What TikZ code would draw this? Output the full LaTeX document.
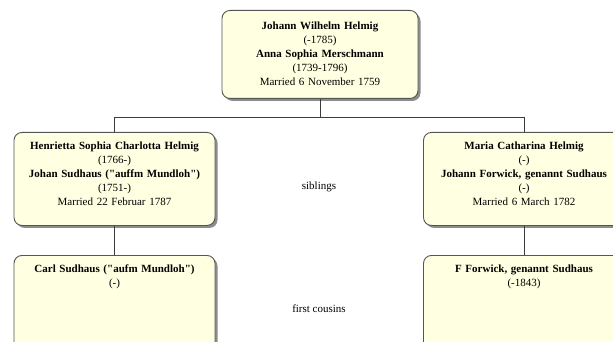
\documentclass[tikz,border=0pt]{standalone}
\usepackage{fontspec}
\setmainfont{Liberation Serif}
\usepackage{tikz}
\usetikzlibrary{shadows}
\definecolor{boxfill}{RGB}{255,255,225}
\definecolor{boxline}{RGB}{85,85,85}
\definecolor{connline}{RGB}{60,60,60}

\begin{document}
\begin{tikzpicture}[x=1pt,y=-1pt,
  person/.style={draw=boxline, fill=boxfill, rounded corners=8pt, line width=0.9pt,
    anchor=north, align=center, text width=195pt, inner xsep=3pt, inner ysep=0pt,
    text height=17.5pt, font=\fontsize{11}{14}\selectfont,
    drop shadow={shadow xshift=2.5pt, shadow yshift=-2.5pt, fill=black!45, opacity=1}},
  conn/.style={draw=connline, line width=0.8pt},
  rel/.style={font=\fontsize{11}{14}\selectfont}]
\useasboundingbox (0,0) rectangle (613,342);

% Parents
\node[person, text width=190pt, text height=19pt, text depth=69pt] (parents) at (320,10)
  {\textbf{Johann Wilhelm Helmig}\\(-1785)\\\textbf{Anna Sophia Merschmann}\\(1739-1796)\\Married 6 November 1759};

% Children
\node[person, text depth=75.5pt] (henrietta) at (114.5,132)
  {\textbf{Henrietta Sophia Charlotta Helmig}\\(1766-)\\\textbf{Johan Sudhaus (\textquotedbl auffm Mundloh\textquotedbl)}\\(1751-)\\Married 22 Februar 1787};
\node[person, text depth=75.5pt] (maria) at (524,132)
  {\textbf{Maria Catharina Helmig}\\(-)\\\textbf{Johann Forwick, genannt Sudhaus}\\(-)\\Married 6 March 1782};

% Grandchildren
\node[person, text depth=92.5pt] (carl) at (114.5,255)
  {\textbf{Carl Sudhaus (\textquotedbl aufm Mundloh\textquotedbl)}\\(-)};
\node[person, text depth=92.5pt] (forwick) at (524,255)
  {\textbf{F Forwick, genannt Sudhaus}\\(-1843)};

% Lines
\coordinate (bar) at (320,117);
\draw[conn] (parents.south) -- (bar);
\draw[conn] (henrietta.north) -- (henrietta.north |- bar) -- (maria.north |- bar) -- (maria.north);
\draw[conn] (henrietta.south) -- (carl.north);
\draw[conn] (maria.south) -- (forwick.north);

% Relations
\node[rel] (siblings) at (319,187) {siblings};
\node[rel] (cousins) at (319,309) {first cousins};
\end{tikzpicture}
\end{document}
